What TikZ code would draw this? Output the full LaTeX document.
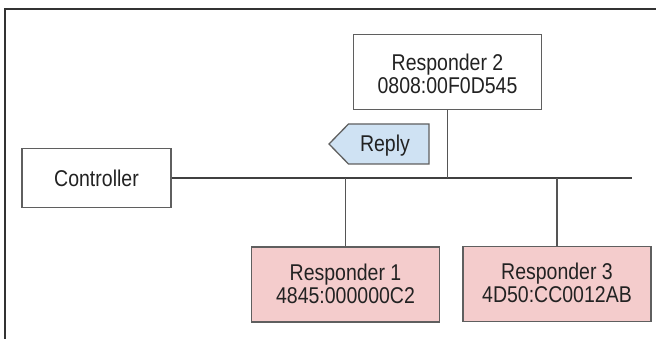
\documentclass[tikz,border=0pt]{standalone}
\usepackage{fontspec}
\setmainfont{Liberation Sans}
\definecolor{pinkfill}{HTML}{F4CCCC}
\definecolor{bluefill}{HTML}{CFE2F3}
\definecolor{edge}{HTML}{5F5F5F}
\definecolor{wire}{HTML}{555555}
\definecolor{txt}{HTML}{222222}
\newcommand{\tallt}[2][0pt]{\raisebox{-#1}[\height][\depth]{\scalebox{1}[1.17]{\begin{tabular}{@{}c@{}}#2\end{tabular}}}}
\begin{document}
\begin{tikzpicture}[x=1pt,y=-1pt,
  box/.style={draw=edge, line width=1.3pt, fill=white, align=center, text=txt,
    font=\fontsize{19.5}{19.4}\selectfont, inner sep=0pt},
  resp/.style={box, fill=pinkfill},
  wireline/.style={draw=wire, line width=1.2pt},
  replyshape/.style={draw=edge, line width=1.3pt, fill=bluefill},
  labeltext/.style={text=txt, font=\fontsize{19.5}{19.4}\selectfont, inner sep=0pt}]
\useasboundingbox (0,0) rectangle (656,339);
% frame (top and left edges)
\draw[line width=2.5pt, color=black!80] (5,339) -- (5,9) -- (656,9);
% nodes
\node[box, minimum width=188pt, minimum height=74.5pt] (r2) at (447.5,72) {\tallt[4.8pt]{Responder 2\\0808:00F0D545}};
\node[box, minimum width=149pt, minimum height=59pt] (ctrl) at (96.5,178) {\tallt[3.5pt]{Controller}};
\node[resp, minimum width=188.5pt, minimum height=75pt] (r1) at (345.5,284.5) {\tallt[2.3pt]{Responder 1\\4845:000000C2}};
\node[resp, minimum width=188pt, minimum height=75pt] (r3) at (557,284) {\tallt[2.3pt]{Responder 3\\4D50:CC0012AB}};
\coordinate (busend) at (632,178);
% reply signal
\path[replyshape] (329,144) -- (348.5,124) -- (429,124) -- (429,164) -- (348.5,164) -- cycle;
\node[labeltext] (reply) at (385,144) {\tallt[2.3pt]{Reply}};
% connectors
\draw[line width=1.2pt, color=black!75] (ctrl.east) -- (busend);
\draw[wireline] (r2.south) -- (r2.south |- ctrl.east);
\draw[wireline] (r1.north |- ctrl.east) -- (r1.north);
\draw[wireline] (r3.north |- ctrl.east) -- (r3.north);
\end{tikzpicture}
\end{document}
